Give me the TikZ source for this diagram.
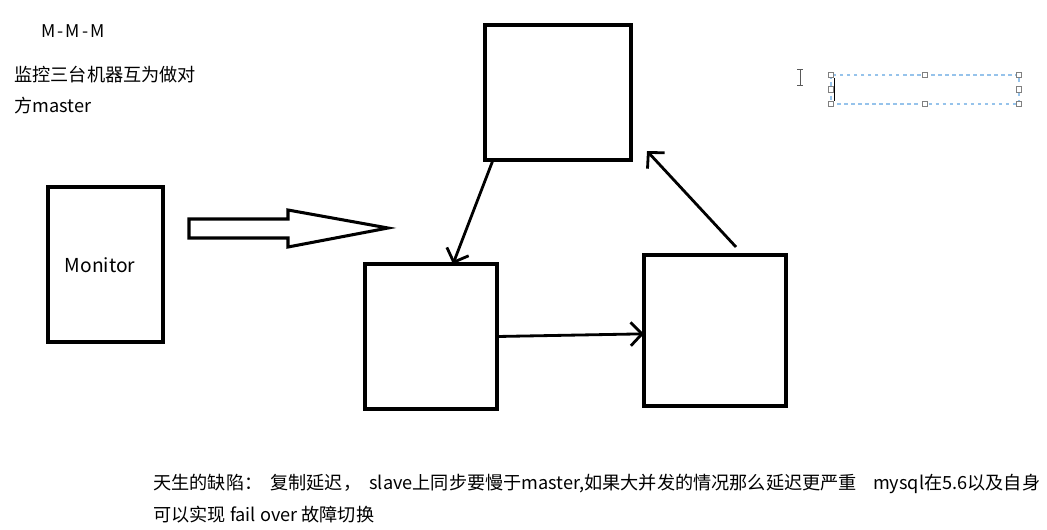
\documentclass[tikz,border=0pt]{standalone}
\usepackage{fontspec}
\setmainfont{Noto Sans CJK SC}
\usetikzlibrary{arrows.meta}

\begin{document}
\begin{tikzpicture}[
			x = 0.03cm, y = -0.03cm, % one unit per pixel
			> = {Straight Barb[length=3.4mm,width=7mm]}, % open arrow head
			line width = 2.4pt
			]
			
			\tikzstyle{box}=[
			draw = black,
			line width = 2.6pt,
			inner sep = 0pt,
			outer sep = 0pt
			]
			\tikzstyle{label}=[font=\fontsize{15.5}{18}\selectfont, inner sep=0pt, anchor=west]
			\tikzstyle{handle}=[draw=gray, fill=white, line width=0.7pt, minimum size=4.5pt, inner sep=0pt]
			
			\useasboundingbox (0,0) rectangle (1047,529);
			
			% notes at the top left
			\node[font=\fontsize{15}{16}\selectfont\addfontfeature{LetterSpace=12}, inner sep=0pt] (title) at (73,31) {M-M-M};
			\node[label] (note1) at (13,75) {监控三台机器互为做对};
			\node[label] (note2) at (13,106) {方master};
			
			% the monitor and the three masters
			\node[box, minimum width=3.45cm, minimum height=4.65cm] (monitor) at (105.5,264.5) {};
			\node[font=\fontsize{16.4}{18}\selectfont] at (100,265) {Monitor};
			\node[box, minimum width=4.38cm, minimum height=4.05cm] (masterA) at (558,92.5) {};
			\node[box, minimum width=3.96cm, minimum height=4.35cm] (masterB) at (431,336.5) {};
			\node[box, minimum width=4.26cm, minimum height=4.53cm] (masterC) at (715,330.5) {};
			
			% block arrow from the monitor
			\draw[line width=2.6pt, line join=miter]
			(189,219) -- (288,219) -- (288,210) -- (388,228) -- (288,247) -- (288,238) -- (189,238) -- cycle;
			
			% replication ring
			\draw[->] ([xshift=0.24cm]masterA.south west) -- ([xshift=2.64cm]masterB.north west);
			\draw[->] (masterB.east) -- ([yshift=-0.1cm]masterC.west);
			\draw[->] ([xshift=0.63cm,yshift=0.24cm]masterC.north) -- ([xshift=0.48cm,yshift=0.27cm]masterA.south east);
			
			% selected empty text box
			\draw[draw={rgb,255:red,150;green,195;blue,235}, dashed, line width=0.9pt] (831,75) rectangle (1019,104);
			\draw[line width=0.8pt] (834,78) -- (834,101);
			\foreach \hx/\hy in {831/75, 925/75, 1019/75, 831/89.5, 1019/89.5, 831/104, 925/104, 1019/104}
				\node[handle] at (\hx,\hy) {};
			\draw[gray!70!black, line width=0.7pt] (800,69) -- (800,85) (797,69) -- (803,69) (797,85) -- (803,85);
			
			% remarks at the bottom
			\node[label] (remark1) at (152,484) {天生的缺陷：\ \ 复制延迟，\ \ slave上同步要慢于master,如果大并发的情况那么延迟更严重\ \ \ \ mysql在5.6以及自身};
			\node[label] (remark2) at (152,515) {可以实现 fail over 故障切换};
		\end{tikzpicture}
\end{document}
